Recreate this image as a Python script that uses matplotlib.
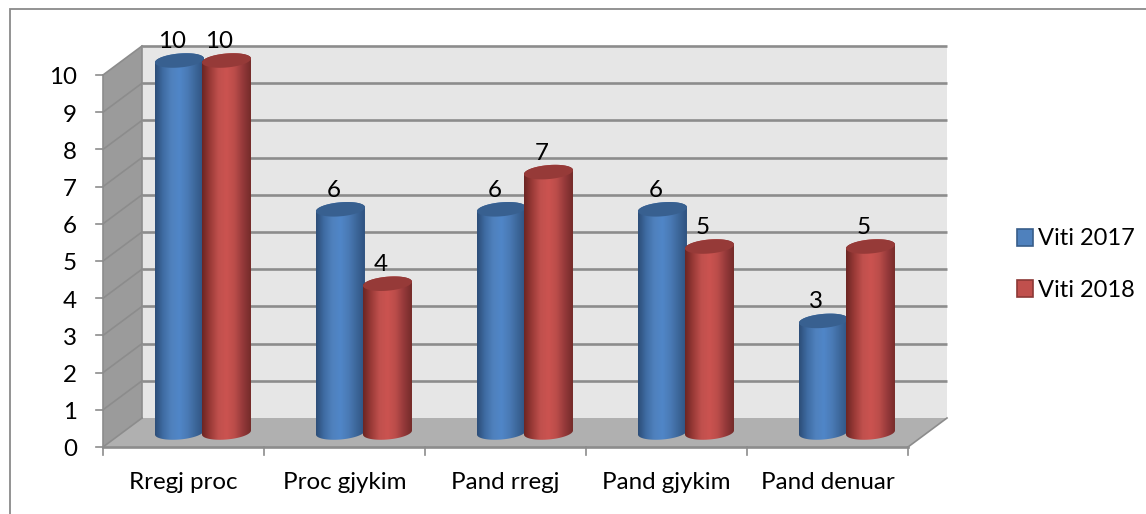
import numpy as np
import matplotlib
matplotlib.use("Agg")
import matplotlib.pyplot as plt
from matplotlib.patches import Polygon, Patch
from matplotlib.colors import LinearSegmentedColormap

categories = ["Rregj proc", "Proc gjykim", "Pand rregj", "Pand gjykim", "Pand denuar"]
viti_2017 = [10, 6, 6, 6, 3]
viti_2018 = [10, 4, 7, 5, 5]
y_ticks = list(range(0, 11))

W, H = 1146, 514
FS = 17.4
plt.rcParams['font.family'] = ['Lato', 'DejaVu Sans']
fig = plt.figure(figsize=(W / 100, H / 100), dpi=100)
ax = fig.add_axes([0, 0, 1, 1])

# pixel geometry of the plot
X0, XU = 103.0, 161.0
Y0, YU = 447.0, 37.2
ax.set_xlim((0 - X0) / XU, (W - X0) / XU)
ax.set_ylim((Y0 - H) / YU, (Y0 - 0) / YU)
ax.axis('off')
DX, DY = 39 / XU, 29 / YU   # depth offset
n = len(categories)
ymax = y_ticks[-1]

# outer frame: only the top and left edges are visible
ax.plot([9.5 / W, 9.5 / W, 1], [0, 1 - 8.5 / H, 1 - 8.5 / H], transform=ax.transAxes,
        color='#8a8a8a', lw=1.3, zorder=0.5, solid_joinstyle='miter')
# walls
ax.add_patch(Polygon([(0, 0), (DX, DY), (DX, ymax + DY), (0, ymax)], fc='#9b9b9b', ec='none', zorder=1))
ax.add_patch(Polygon([(DX, DY), (n + DX, DY), (n + DX, ymax + DY), (DX, ymax + DY)], fc='#e6e6e6', ec='none', zorder=1))
ax.add_patch(Polygon([(0, 0), (n, 0), (n + DX, DY), (DX, DY)], fc='#b0b0b0', ec='none', zorder=1))
# gridlines
for t in y_ticks:
    if t > 0:
        ax.plot([DX, n + DX], [t + DY, t + DY], color='#8c8c8c', lw=1.9, zorder=2, solid_capstyle='butt')
    ax.plot([0, DX], [t, t + DY], color='#8c8c8c', lw=1.2, zorder=2)
    ax.plot([-7 / XU, 0], [t, t], color='#8c8c8c', lw=1.2, zorder=2)
    ax.text(-26 / XU, t - 9.5 / YU, str(t), ha='right', va='baseline', fontsize=FS, color='black', zorder=6)
ax.plot([DX, DX], [0 + DY, ymax + DY], color='#8c8c8c', lw=1.2, zorder=2)
ax.plot([0, 0], [0, ymax], color='#8c8c8c', lw=1.2, zorder=2)
ax.plot([0, n], [0, 0], color='#8c8c8c', lw=1.9, zorder=2)
ax.plot([n, n + DX], [0, DY], color='#8c8c8c', lw=1.2, zorder=2)
for i in range(n + 1):
    ax.plot([i, i], [0, -8 / YU], color='#8c8c8c', lw=1.2, zorder=2)
for i, c in enumerate(categories):
    ax.text(i + 0.5, -42 / YU, c, ha='center', va='baseline', fontsize=FS, color='black', zorder=6)

blue = LinearSegmentedColormap.from_list('b', ['#2c4d77', '#3f6ca3', '#4f81bd', '#5086c8', '#4a7ab5', '#3c6699', '#2f5280'])
red = LinearSegmentedColormap.from_list('r', ['#6b2523', '#9a3a37', '#c0504d', '#cb5350', '#bb4d4a', '#95393a', '#742b29'])
RX = 24.5 / XU
RY = 7 / YU
TILT = 2.0 / YU


def ell(cx, cy, t):
    return cx + RX * np.cos(t), cy + RY * np.sin(t) + TILT * np.cos(t)


def cylinder(cx, v, cmap, top, z):
    cy0 = DY / 2
    cy1 = v + DY / 2
    tb = np.linspace(np.pi, 2 * np.pi, 60)
    tt = np.linspace(0, np.pi, 60)
    xb, yb = ell(cx, cy0, tb)
    xt, yt = ell(cx, cy1, tt)
    poly = Polygon(np.r_[np.c_[xb, yb], np.c_[xt, yt]], fc='none', ec='none', zorder=z)
    ax.add_patch(poly)
    im = ax.imshow(np.linspace(0, 1, 256)[None, :], cmap=cmap, aspect='auto', zorder=z,
                   extent=(cx - RX, cx + RX, -1, ymax + 2), interpolation='bilinear')
    im.set_clip_path(poly)
    t = np.linspace(0, 2 * np.pi, 120)
    xe, ye = ell(cx, cy1, t)
    ax.add_patch(Polygon(np.c_[xe, ye], fc=top, ec='none', zorder=z + 0.1))


for i in range(n):
    cxb = i + 0.475
    cxr = i + 0.767
    cylinder(cxb, viti_2017[i], blue, '#386090', 3)
    cylinder(cxr, viti_2018[i], red, '#963a38', 3.2)
    ax.annotate(str(viti_2017[i]), (cxb, viti_2017[i] + DY / 2), xytext=(-5.2, 9), textcoords='offset points',
                ha='center', va='baseline', fontsize=FS, zorder=6)
    ax.annotate(str(viti_2018[i]), (cxr, viti_2018[i] + DY / 2), xytext=(-5.2, 9), textcoords='offset points',
                ha='center', va='baseline', fontsize=FS, zorder=6)

ax.set_xlim((0 - X0) / XU, (W - X0) / XU)
ax.set_ylim((Y0 - H) / YU, (Y0 - 0) / YU)

handles = [Patch(fc='#4f81bd', ec='#385d8a', lw=1.2, label='Viti 2017'),
           Patch(fc='#c0504d', ec='#8c3836', lw=1.2, label='Viti 2018')]
ax.legend(handles=handles, loc='center left', bbox_to_anchor=(1017 / W, 1 - 264.5 / H), frameon=False,
          fontsize=17.0, handlelength=0.68, handleheight=0.75, handletextpad=0.2, labelspacing=1.28,
          borderpad=0, borderaxespad=0)

fig.savefig('out.png', dpi=100, facecolor='white')
